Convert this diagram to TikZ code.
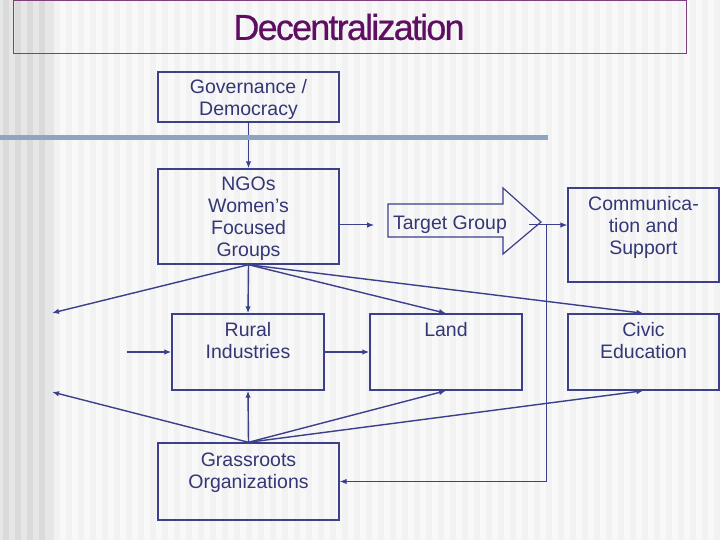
\documentclass[tikz,border=0pt]{standalone}
\usepackage{fontspec}
\setmainfont{Liberation Sans}
\newfontfamily\titlefont[LetterSpace=-5.0,FakeBold=0.6]{Liberation Sans}
\usetikzlibrary{arrows.meta}
\definecolor{bcol}{RGB}{59,63,140}
\definecolor{tcol}{RGB}{52,55,118}
\definecolor{ttl}{RGB}{96,14,98}
\definecolor{barc}{RGB}{142,165,192}
\definecolor{bgc}{RGB}{242,242,242}
\definecolor{bgl}{RGB}{248,248,248}
\definecolor{lbd}{RGB}{218,218,218}
\definecolor{lbl}{RGB}{230,230,230}
\begin{document}
\begin{tikzpicture}[x=1pt,y=-1pt,
  box/.style={draw=bcol, line width=1.4pt, inner sep=0pt},
  lab/.style={text=tcol, font=\fontsize{19.5}{22}\selectfont, align=center, inner sep=0pt, anchor=north},
  arr/.style={draw=bcol, line width=1.4pt, -{Latex[length=7pt,width=5.5pt]}},
  tarr/.style={draw=bcol, line width=1pt, -{Latex[length=7pt,width=5.5pt]}},
]
% background
\useasboundingbox (0,0) rectangle (720,540);
\fill[bgc] (0,0) rectangle (720,540);
\foreach \x in {60,72,...,714} \fill[bgl] (\x,0) rectangle (\x+6,540);
\fill[lbl] (0,0) rectangle (52,540);
\foreach \x in {0,12,24,36} \fill[lbd] (\x+3,0) rectangle (\x+9,540);
\fill[lbd!50!bgc] (48,0) rectangle (54,540);
% title
\draw[ttl!80, line width=0.9pt] (13,0.5) rectangle (686,53);
\node[text=ttl, font=\titlefont\fontsize{36}{40}\selectfont, inner sep=0pt] (title) at (349,27) {Decentralization};
% boxes
\node[box, minimum width=181pt, minimum height=50pt,
  label={[lab,yshift=-8pt]north:Governance /\\Democracy}] (gov) at (248.5,97) {};
\node[box, minimum width=181pt, minimum height=95pt,
  label={[lab,yshift=-8pt]north:NGOs\\Women’s\\Focused\\Groups}] (ngo) at (248.5,216.5) {};
\node[box, minimum width=151pt, minimum height=94pt,
  label={[lab,yshift=-9pt]north:Communica-\\tion and\\Support}] (com) at (643.5,235) {};
\node[box, minimum width=152pt, minimum height=76pt,
  label={[lab,yshift=-9pt]north:Rural\\Industries}] (rur) at (248,352) {};
\node[box, minimum width=152pt, minimum height=76pt,
  label={[lab,yshift=-9pt]north:Land}] (lan) at (446,352) {};
\node[box, minimum width=151pt, minimum height=76pt,
  label={[lab,yshift=-9pt]north:Civic\\Education}] (civ) at (643.5,352) {};
\node[box, minimum width=181pt, minimum height=77pt,
  label={[lab,yshift=-10pt]north:Grassroots\\Organizations}] (gra) at (248.5,481.5) {};
% target group arrow
\node[text=tcol, font=\fontsize{19.5}{22}\selectfont, inner sep=0pt] (tg) at (450,224.5) {Target Group};
\draw[bcol, line width=1.2pt, line join=miter] (388,204) -- (503,204) -- (503,188) -- (541,222) -- (503,254) -- (503,237) -- (388,237) -- cycle;
\coordinate (tgl) at (374,225);
\coordinate (tgr) at (529,225);
\coordinate (vt) at (546,225);
\coordinate (lf1) at (52,313);
\coordinate (lf2) at (127,352);
\coordinate (lf3) at (52,392);
% connectors
\draw[arr] (gov.south) -- (ngo.north);
\draw[tarr] (ngo.east |- tgl) -- (tgl);
\draw[tarr] (tgr) -- (tgr -| com.west);
\draw[tarr] (vt) |- (gra.east);
\draw[arr] (ngo.south) -- (rur.north);
\draw[arr] (ngo.south) -- (lf1);
\draw[arr] (ngo.south) -- (lan.north);
\draw[arr] (ngo.south) -- (civ.north);
\draw[arr] (lf2) -- (rur.west);
\draw[arr] (rur.east) -- (lan.west);
\draw[arr] (gra.north) -- (rur.south);
\draw[arr] (gra.north) -- (lf3);
\draw[arr] (gra.north) -- (lan.south);
\draw[arr] (gra.north) -- (civ.south);
% bar (drawn over the connector, as in the reference)
\fill[barc] (0,135) rectangle (548,140.5);
\end{tikzpicture}
\end{document}
